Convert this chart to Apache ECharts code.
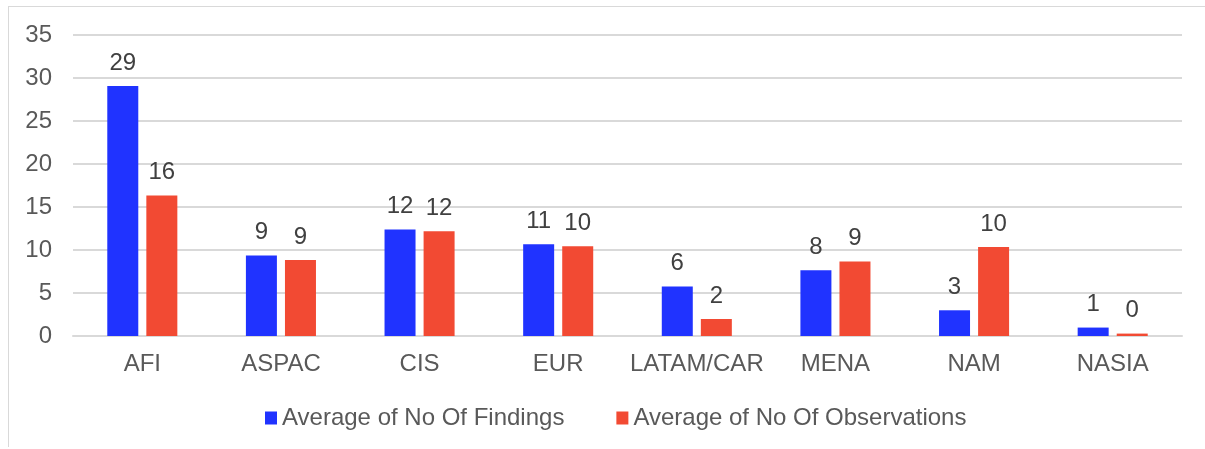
<!DOCTYPE html>
<html>
<head>
<meta charset="utf-8">
<script src="https://cdn.jsdelivr.net/npm/echarts@6/dist/echarts.min.js"></script>
<style>
  html, body { margin: 0; padding: 0; background: #fff; }
  #frame { position: absolute; left: 8px; top: 6px; width: 1197px; height: 440px;
           border-top: 1.5px solid #d9d9d9; border-left: 1.5px solid #d9d9d9; }
  #chart { position: absolute; left: 0; top: 0; width: 1205px; height: 449px; }
</style>
</head>
<body>
<div id="frame"></div>
<div id="chart"></div>
<script>
const regions = ['AFI', 'ASPAC', 'CIS', 'EUR', 'LATAM/CAR', 'MENA', 'NAM', 'NASIA'];
const findings = [29.07, 9.36, 12.38, 10.67, 5.75, 7.65, 2.99, 0.98];
const observations = [16.34, 8.85, 12.19, 10.44, 1.98, 8.66, 10.36, 0.28];

const font = 'Liberation Sans, Arial, sans-serif';

let chart = echarts.init(document.getElementById('chart'));

let labelStyle = {
  show: true,
  position: 'top',
  distance: 11,
  color: '#404040',
  fontSize: 24,
  fontFamily: font,
  formatter: (p) => Math.round(p.value)
};

let option = {
  animation: false,
  grid: {
    left: 73,
    right: 23,
    top: 35,
    bottom: 113
  },
  legend: {
    left: 260,
    top: 401,
    itemWidth: 12,
    itemHeight: 13,
    itemGap: 52,
    icon: 'rect',
    textStyle: {color: '#595959', fontSize: 24, fontFamily: font},
    data: ['Average of No Of Findings', 'Average of No Of Observations']
  },
  xAxis: {
    type: 'category',
    data: regions,
    axisTick: {show: false},
    axisLine: {lineStyle: {color: '#d9d9d9', width: 2}},
    axisLabel: {color: '#595959', fontSize: 24, fontFamily: font, margin: 16, interval: 0}
  },
  yAxis: {
    type: 'value',
    min: 0,
    max: 35,
    interval: 5,
    axisLine: {show: false},
    axisTick: {show: false},
    axisLabel: {color: '#595959', fontSize: 24, fontFamily: font, margin: 21},
    splitLine: {lineStyle: {color: '#d9d9d9', width: 2}}
  },
  series: [
    {
      name: 'Average of No Of Findings',
      type: 'bar',
      data: findings,
      barWidth: 31,
      barGap: '26%',
      itemStyle: {color: '#2033FF'},
      label: labelStyle
    },
    {
      name: 'Average of No Of Observations',
      type: 'bar',
      data: observations,
      barWidth: 31,
      itemStyle: {color: '#F24A33'},
      label: labelStyle
    }
  ]
};

chart.setOption(option);
</script>
</body>
</html>
